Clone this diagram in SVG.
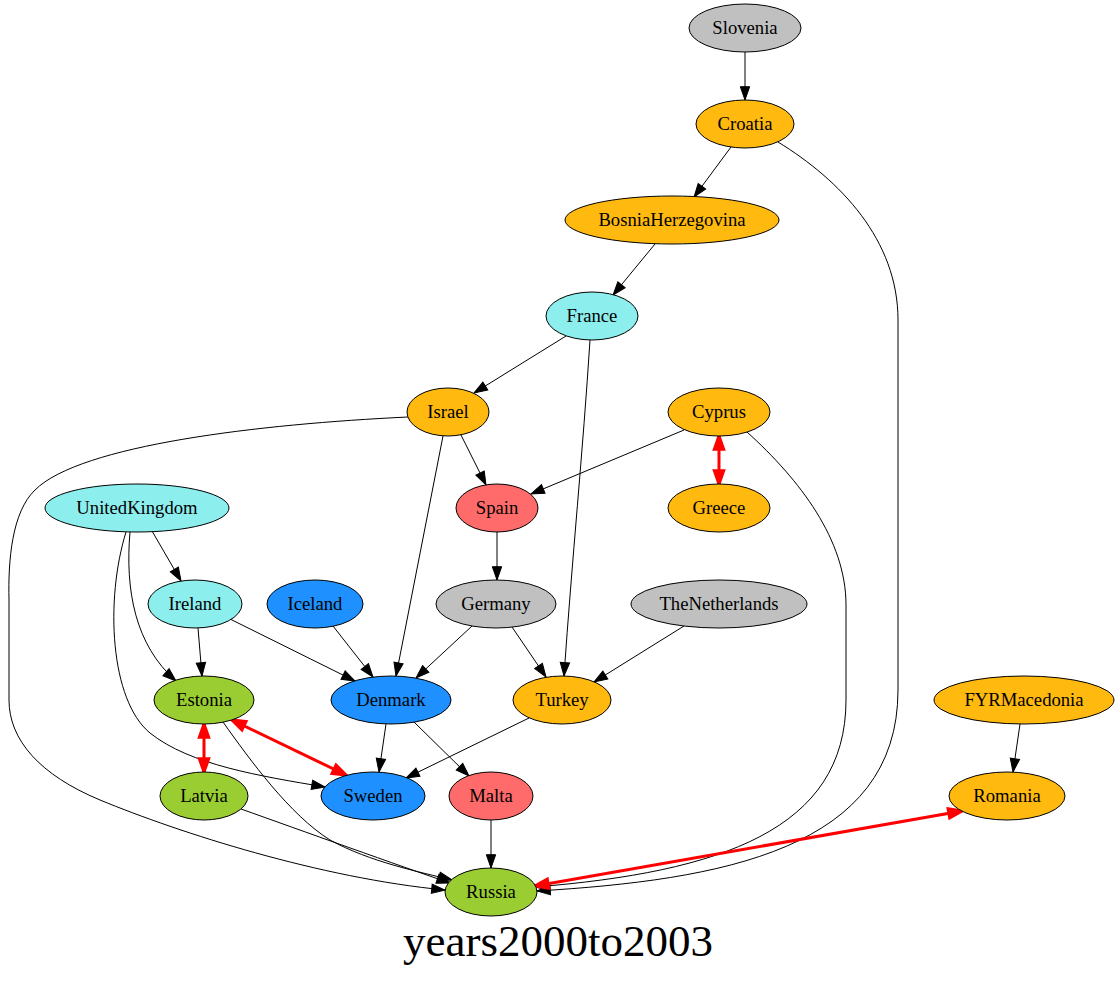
<svg xmlns="http://www.w3.org/2000/svg" width="1120" height="983" viewBox="0 0 1120 983">
<style>
.n ellipse{stroke:#000;stroke-width:1}
.n text{font-family:"Liberation Serif","Times New Roman",serif;font-size:18.67px;text-anchor:middle;fill:#000}
.gray{fill:#c0c0c0}.orange{fill:#ffb90f}.cyan{fill:#8deeee}.blue{fill:#1e90ff}.salmon{fill:#ff6a6a}.green{fill:#9acd32}
#edges path{fill:none}
.e{stroke:#000;stroke-width:1;marker-end:url(#ah)}
.r{stroke:#f00;stroke-width:3;marker-end:url(#rh);marker-start:url(#rh)}
.title{font-family:"Liberation Serif","Times New Roman",serif;font-size:45px;text-anchor:middle;fill:#000}
</style>
<defs>
<marker id="ah" markerUnits="userSpaceOnUse" markerWidth="16" markerHeight="12" refX="13.3" refY="4.67" orient="auto" overflow="visible"><path d="M0,0 L13.3,4.67 L0,9.33 Z" fill="#000" stroke="#000" stroke-width="1"/></marker>
<marker id="rh" markerUnits="userSpaceOnUse" markerWidth="16" markerHeight="12" refX="13.3" refY="4.67" orient="auto-start-reverse" overflow="visible"><path d="M0,0 L13.3,4.67 L0,9.33 Z" fill="#f00" stroke="#f00" stroke-width="3"/></marker>
</defs>
<rect width="1120" height="983" fill="#fff"/>
<g id="edges">
<path class="e" d="M745,52 L745,100"/>
<path class="e" d="M731,147 L694,197"/>
<path class="e" d="M655,244 L613,295"/>
<path class="e" d="M778,142 C840,180 898,240 898,320 L898,690 C898,850 720,880 537,891"/>
<path class="e" d="M747,432 C800,480 846,540 846,605 L846,700 C846,830 720,872 535,887"/>
<path class="e" d="M566,336 L474,393"/>
<path class="e" d="M590,340 C583,450 572,560 564,676"/>
<path class="e" d="M461,435 L486,485"/>
<path class="e" d="M443,436 L396,676"/>
<path class="e" d="M408,417 C260,424 80,445 35,490 C12,512 8,560 9,600 L9,700 C9,740 40,775 100,800 C180,833 320,878 445,890"/>
<path class="e" d="M152,531 L181,581"/>
<path class="e" d="M130,532 C125,590 135,645 176,681"/>
<path class="e" d="M126,532 C105,600 110,700 150,733 C190,765 260,776 325,787"/>
<path class="e" d="M198,628 L202,676"/>
<path class="e" d="M230,619 L355,681"/>
<path class="e" d="M333,626 L373,677"/>
<path class="e" d="M472,626 L416,678"/>
<path class="e" d="M512,627 L546,677"/>
<path class="e" d="M497,532 L497,580"/>
<path class="e" d="M684,430 L531,494"/>
<path class="e" d="M684,626 L594,682"/>
<path class="e" d="M386,724 L379,772"/>
<path class="e" d="M414,722 L469,776"/>
<path class="e" d="M529,718 L406,778"/>
<path class="e" d="M491,820 L491,868"/>
<path class="e" d="M223,722 C250,760 290,815 330,840 C370,862 420,872 452,880"/>
<path class="e" d="M241,809 C300,830 400,866 450,883"/>
<path class="e" d="M1020,724 L1013,772"/>
<path class="r" d="M719,436 L719,484"/>
<path class="r" d="M204,724 L204,772"/>
<path class="r" d="M232,720 L346,775"/>
<path class="r" d="M962,811 L535,886"/>
</g>
<g id="Slovenia" class="n"><ellipse class="gray" cx="745" cy="28" rx="56" ry="24"/><text x="745" y="34">Slovenia</text></g>
<g id="Croatia" class="n"><ellipse class="orange" cx="745" cy="124" rx="49" ry="24"/><text x="745" y="130">Croatia</text></g>
<g id="BosniaHerzegovina" class="n"><ellipse class="orange" cx="672" cy="220" rx="107" ry="24"/><text x="672" y="226">BosniaHerzegovina</text></g>
<g id="France" class="n"><ellipse class="cyan" cx="592" cy="316" rx="46" ry="24"/><text x="592" y="322">France</text></g>
<g id="Israel" class="n"><ellipse class="orange" cx="448" cy="412" rx="41" ry="24"/><text x="448" y="418">Israel</text></g>
<g id="Cyprus" class="n"><ellipse class="orange" cx="719" cy="412" rx="51" ry="24"/><text x="719" y="418">Cyprus</text></g>
<g id="UnitedKingdom" class="n"><ellipse class="cyan" cx="137" cy="508" rx="92" ry="24"/><text x="137" y="514">UnitedKingdom</text></g>
<g id="Spain" class="n"><ellipse class="salmon" cx="497" cy="508" rx="41" ry="24"/><text x="497" y="514">Spain</text></g>
<g id="Greece" class="n"><ellipse class="orange" cx="719" cy="508" rx="51" ry="24"/><text x="719" y="514">Greece</text></g>
<g id="Ireland" class="n"><ellipse class="cyan" cx="195" cy="604" rx="47" ry="24"/><text x="195" y="610">Ireland</text></g>
<g id="Iceland" class="n"><ellipse class="blue" cx="315" cy="604" rx="48" ry="24"/><text x="315" y="610">Iceland</text></g>
<g id="Germany" class="n"><ellipse class="gray" cx="496" cy="604" rx="60" ry="24"/><text x="496" y="610">Germany</text></g>
<g id="TheNetherlands" class="n"><ellipse class="gray" cx="719" cy="604" rx="88" ry="24"/><text x="719" y="610">TheNetherlands</text></g>
<g id="Estonia" class="n"><ellipse class="green" cx="204" cy="700" rx="50" ry="24"/><text x="204" y="706">Estonia</text></g>
<g id="Denmark" class="n"><ellipse class="blue" cx="391" cy="700" rx="60" ry="24"/><text x="391" y="706">Denmark</text></g>
<g id="Turkey" class="n"><ellipse class="orange" cx="562" cy="700" rx="49" ry="24"/><text x="562" y="706">Turkey</text></g>
<g id="FYRMacedonia" class="n"><ellipse class="orange" cx="1024" cy="700" rx="90" ry="24"/><text x="1024" y="706">FYRMacedonia</text></g>
<g id="Latvia" class="n"><ellipse class="green" cx="204" cy="796" rx="44" ry="24"/><text x="204" y="802">Latvia</text></g>
<g id="Sweden" class="n"><ellipse class="blue" cx="373" cy="796" rx="52" ry="24"/><text x="373" y="802">Sweden</text></g>
<g id="Malta" class="n"><ellipse class="salmon" cx="491" cy="796" rx="42" ry="24"/><text x="491" y="802">Malta</text></g>
<g id="Romania" class="n"><ellipse class="orange" cx="1007" cy="796" rx="58" ry="24"/><text x="1007" y="802">Romania</text></g>
<g id="Russia" class="n"><ellipse class="green" cx="491" cy="892" rx="46" ry="24"/><text x="491" y="898">Russia</text></g>
<text class="title" x="558" y="956">years2000to2003</text>
</svg>
